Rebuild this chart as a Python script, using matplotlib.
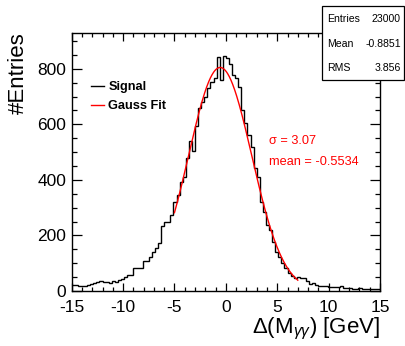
import numpy as np
import matplotlib
matplotlib.use("Agg")
import matplotlib.pyplot as plt
from matplotlib.patches import Rectangle

plt.rcParams['font.family'] = ['Liberation Sans', 'DejaVu Sans']
plt.rcParams['mathtext.fontset'] = 'custom'
plt.rcParams['mathtext.rm'] = 'Liberation Sans'
plt.rcParams['mathtext.it'] = 'Liberation Sans:italic'
plt.rcParams['axes.unicode_minus'] = False

# ---- data ----
x_min, x_max, n_bins = -15.0, 15.0, 100
counts = [
    20, 20, 18, 19, 19, 20, 24, 28, 32, 36,
    31, 32, 28, 37, 33, 40, 43, 52, 56, 56,
    83, 84, 84, 108, 108, 124, 142, 156, 174, 235,
    247, 250, 274, 322, 345, 394, 412, 478, 540, 505,
    595, 660, 682, 700, 730, 752, 768, 842, 760, 845,
    838, 816, 778, 766, 736, 652, 604, 562, 520, 442,
    412, 322, 286, 238, 220, 178, 142, 124, 100, 82,
    64, 55, 46, 52, 46, 46, 36, 27, 28, 20,
    18, 18, 17, 16, 14, 13, 15, 19, 11, 10,
    10, 9, 8, 10, 7, 8, 6, 8, 7, 7,
]
fit_amp = 805.0
fit_mean = -0.5534
fit_sigma = 3.07
fit_range = (-5.0, 7.0)
stat_names = ["Entries", "Mean", "RMS"]
stat_values = ["23000", "-0.8851", "3.856"]
legend_labels = ["Signal", "Gauss Fit"]

# ---- figure ----
W, H = 405, 346
fig = plt.figure(figsize=(W / 100, H / 100), dpi=100)
ax_l, ax_r, ax_t, ax_b = 71.7, 380.0, 33.3, 291.0
ax = fig.add_axes([ax_l / W, 1 - ax_b / H, (ax_r - ax_l) / W, (ax_b - ax_t) / H])

edges = np.linspace(x_min, x_max, n_bins + 1)
h_line, = ax.step([], [], color='black', lw=1.0)
ax.stairs(counts, edges, color='black', lw=1.0, baseline=None)
xf = np.linspace(fit_range[0], fit_range[1], 300)
yf = fit_amp * np.exp(-0.5 * ((xf - fit_mean) / fit_sigma) ** 2)
f_line, = ax.plot(xf, yf, color='#ff0000', lw=1.0)

ax.set_xlim(x_min, x_max)
ax.set_ylim(0, 928)
ax.set_xticks([-15, -10, -5, 0, 5, 10, 15])
ax.set_xticks(np.arange(-15, 16, 1), minor=True)
ax.set_yticks([0, 200, 400, 600, 800])
ax.set_yticks(np.arange(0, 928, 50), minor=True)
ax.tick_params(axis='both', which='both', direction='in', top=True, right=True,
               width=0.9, labelsize=12.5)
ax.tick_params(axis='x', which='major', length=6, pad=6.5)
ax.tick_params(axis='x', which='minor', length=3)
ax.tick_params(axis='y', which='major', length=7.5, pad=4)
ax.tick_params(axis='y', which='minor', length=3.8)
for s in ax.spines.values():
    s.set_linewidth(1.0)

leg = ax.legend([h_line, f_line], legend_labels, loc='upper left',
                bbox_to_anchor=((91 - ax_l) / (ax_r - ax_l), (ax_b - 81) / (ax_b - ax_t)),
                frameon=False, handlelength=1.05, handletextpad=0.3,
                labelspacing=0.55, borderpad=0, borderaxespad=0,
                prop={'weight': 'bold', 'size': 9.2})

ax.text(269 / W, 1 - 141 / H, r"σ = 3.07", transform=fig.transFigure,
        color='#ff0000', fontsize=9.2, ha='left', va='center')
ax.text(269 / W, 1 - 162 / H, "mean = -0.5534", transform=fig.transFigure,
        color='#ff0000', fontsize=9.2, ha='left', va='center')

fig.text(380 / W, 1 - 333 / H, r'$\Delta$(M$_{\gamma\gamma}$) [GeV]',
         ha='right', va='baseline', fontsize=16)
fig.text(18.5 / W, 1 - 32 / H, '#Entries', rotation=90, ha='center', va='top',
         fontsize=16)

# stats box
bx0, by0, bx1, by1 = 322, 6, 404, 80
fig.patches.append(Rectangle((bx0 / W, 1 - by1 / H), (bx1 - bx0) / W, (by1 - by0) / H,
                             transform=fig.transFigure, facecolor='white',
                             edgecolor='black', lw=0.9, zorder=5))
rows_y = [19, 44, 68]
for name, val, yy in zip(stat_names, stat_values, rows_y):
    fig.text(327 / W, 1 - yy / H, name, ha='left', va='center', fontsize=7.6, zorder=6)
    fig.text(401 / W, 1 - yy / H, val, ha='right', va='center', fontsize=7.6, zorder=6)

fig.savefig('out.png', dpi=100)
